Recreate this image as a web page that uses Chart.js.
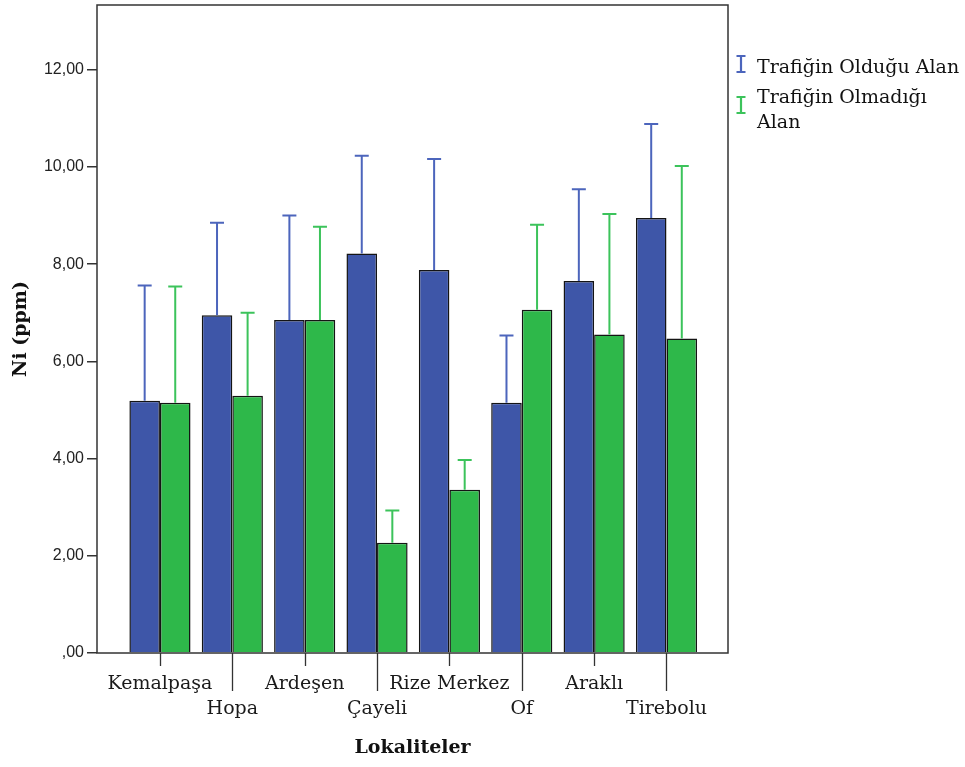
<!DOCTYPE html>
<html>
<head>
<meta charset="utf-8">
<script src="https://cdn.jsdelivr.net/npm/chart.js@4.4.1/dist/chart.umd.min.js"></script>
<style>
  html, body { margin: 0; padding: 0; background: #fff; }
  canvas { display: block; }
</style>
</head>
<body>
<canvas id="chart" width="965" height="767"></canvas>
<script>
// Ni (ppm) by locality, with and without traffic; whisker = upper end of the error bar
const categories = ['Kemalpaşa', 'Hopa', 'Ardeşen', 'Çayeli', 'Rize Merkez', 'Of', 'Araklı', 'Tirebolu'];
const seriesNames = ['Trafiğin Olduğu Alan', 'Trafiğin Olmadığı Alan'];
const trafficMeans   = [5.19, 6.95, 6.85, 8.22, 7.88, 5.15, 7.65, 8.95];
const trafficUpper   = [7.56, 8.85, 9.00, 10.23, 10.16, 6.53, 9.54, 10.88];
const noTrafficMeans = [5.15, 5.29, 6.85, 2.27, 3.36, 7.06, 6.55, 6.47];
const noTrafficUpper = [7.54, 7.00, 8.77, 2.93, 3.97, 8.81, 9.03, 10.02];
const yTicks = [0, 2, 4, 6, 8, 10, 12];

const BLUE = '#3E56A8', GREEN = '#2EB84A';
const BLUE_ERR = '#4C65BC', GREEN_ERR = '#3CC35B';
const SERIF = '"DejaVu Serif", serif';
const SANS = '"Liberation Sans", Arial, sans-serif';

const fmt = v => v === 0 ? ',00' : v.toFixed(2).replace('.', ',');

// upper whiskers with caps, drawn from each bar's top
const errorBars = {
  id: 'errorBars',
  afterDatasetsDraw(chart) {
    const { ctx, scales: { y } } = chart;
    const uppers = [trafficUpper, noTrafficUpper];
    const colors = [BLUE_ERR, GREEN_ERR];
    chart.data.datasets.forEach((ds, d) => {
      const meta = chart.getDatasetMeta(d);
      ctx.save();
      ctx.strokeStyle = colors[d];
      ctx.lineWidth = 2;
      meta.data.forEach((bar, i) => {
        const yTop = y.getPixelForValue(uppers[d][i]);
        ctx.beginPath();
        ctx.moveTo(bar.x, bar.y);
        ctx.lineTo(bar.x, yTop);
        ctx.moveTo(bar.x - 7, yTop);
        ctx.lineTo(bar.x + 7, yTop);
        ctx.stroke();
      });
      ctx.restore();
    });
  }
};

// plot frame, staggered category tick marks and the legend
const frame = {
  id: 'frame',
  afterDraw(chart) {
    const { ctx, chartArea: a, scales: { x } } = chart;
    ctx.save();
    ctx.strokeStyle = '#333';
    ctx.lineWidth = 1.5;
    ctx.strokeRect(a.left, a.top, a.right - a.left, a.bottom - a.top);

    ctx.lineWidth = 1.3;
    categories.forEach((_, i) => {
      const px = Math.round(x.getPixelForValue(i)) + 0.5;
      ctx.beginPath();
      ctx.moveTo(px, a.bottom);
      ctx.lineTo(px, a.bottom + (i % 2 ? 38 : 13));
      ctx.stroke();
    });

    // legend
    const colors = [BLUE_ERR, GREEN_ERR];
    const rows = [[56, 73], [97, 103]];
    ctx.font = '19px ' + SERIF;
    ctx.fillStyle = '#111';
    ctx.textBaseline = 'alphabetic';
    seriesNames.forEach((name, k) => {
      const [iconTop, baseline] = rows[k];
      ctx.strokeStyle = colors[k];
      ctx.lineWidth = 2.2;
      ctx.beginPath();
      ctx.moveTo(741, iconTop); ctx.lineTo(741, iconTop + 16);
      ctx.moveTo(736.5, iconTop); ctx.lineTo(745.5, iconTop);
      ctx.moveTo(736.5, iconTop + 16); ctx.lineTo(745.5, iconTop + 16);
      ctx.stroke();
      // wrap into lines that fit beside the plot
      const words = name.split(' ');
      const lines = [];
      let line = '';
      words.forEach(w => {
        const test = line ? line + ' ' + w : w;
        if (ctx.measureText(test).width > 206 && line) { lines.push(line); line = w; }
        else line = test;
      });
      lines.push(line);
      lines.forEach((t, j) => ctx.fillText(t, 757, baseline + j * 25));
    });
    ctx.restore();
  }
};

new Chart(document.getElementById('chart'), {
  type: 'bar',
  data: {
    datasets: [
      {
        label: seriesNames[0],
        data: trafficMeans.map((v, i) => ({ x: i, y: v })),
        backgroundColor: BLUE,
        borderColor: '#141414',
        borderWidth: 1.5
      },
      {
        label: seriesNames[1],
        data: noTrafficMeans.map((v, i) => ({ x: i, y: v })),
        backgroundColor: GREEN,
        borderColor: '#141414',
        borderWidth: 1.5
      }
    ]
  },
  options: {
    responsive: false,
    animation: false,
    events: [],
    categoryPercentage: 0.845,
    barPercentage: 1,
    layout: { padding: { top: 5, right: 237, bottom: 0, left: 0 } },
    plugins: { legend: { display: false }, tooltip: { enabled: false } },
    scales: {
      x: {
        type: 'linear',
        offset: false,
        min: -0.87,
        max: 7.85,
        afterBuildTicks: s => { s.ticks = categories.map((_, i) => ({ value: i })); },
        afterFit: s => { s.height = 114; s.paddingLeft = 0; s.paddingRight = 0; },
        grid: { display: false, drawTicks: false, offset: false },
        border: { display: false },
        ticks: {
          autoSkip: false,
          maxRotation: 0,
          padding: 19,
          color: '#1a1a1a',
          font: { family: SERIF, size: 19, lineHeight: 1.3 },
          callback: (v, i) => i % 2 ? ['', categories[i]] : categories[i]
        },
        title: {
          display: true,
          text: 'Lokaliteler',
          color: '#111',
          font: { family: SERIF, size: 19, weight: 'bold' },
          padding: { top: 0, bottom: 8 }
        }
      },
      y: {
        min: 0,
        max: 13.33,
        afterBuildTicks: s => { s.ticks = yTicks.map(v => ({ value: v })); },
        afterFit: s => { s.width = 97; s.paddingTop = 0; s.paddingBottom = 0; },
        grid: { drawOnChartArea: false, drawTicks: true, tickLength: 10, color: '#333', lineWidth: 1.5 },
        border: { display: false },
        ticks: {
          padding: 3,
          color: '#222',
          font: { family: SANS, size: 16 },
          callback: v => fmt(v)
        },
        title: {
          display: true,
          text: 'Ni (ppm)',
          color: '#111',
          font: { family: SERIF, size: 19, weight: 'bold' },
          padding: { top: 10, bottom: 0 }
        }
      }
    }
  },
  plugins: [errorBars, frame]
});
</script>
</body>
</html>
